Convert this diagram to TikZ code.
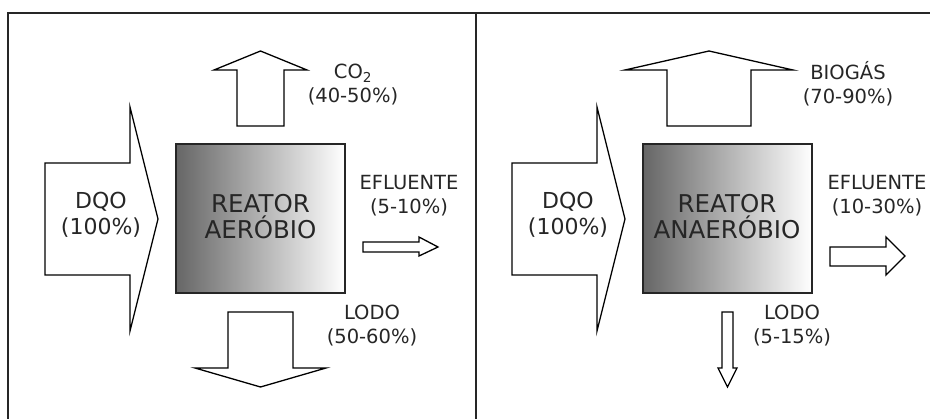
\documentclass[tikz,border=0pt]{standalone}
\usepackage{fontspec}
\setmainfont{DejaVu Sans}
\begin{document}
\begin{tikzpicture}[x=1pt,y=-1pt,line join=miter]
\useasboundingbox (0,0) rectangle (930,419);
\tikzset{
  frame/.style={line width=1.6pt, draw=black!85},
  blockarrow/.style={draw=black, line width=1.3pt, fill=white},
  reactor/.style={draw=black!85, line width=1.5pt, left color=black!60, right color=white, inner sep=0pt},
  lbl/.style={align=center, font=\fontsize{19.5}{24}\selectfont, inner sep=0pt, text=black!85},
  big/.style={align=center, font=\fontsize{24.5}{26}\selectfont, inner sep=0pt, text=black!85},
  dqo/.style={align=center, font=\fontsize{22}{26.5}\selectfont, inner sep=0pt, text=black!85},
}
% frame
\coordinate (tl) at (8,13);
\coordinate (tr) at (930,13);
\coordinate (bl) at (8,419);
\coordinate (mt) at (476,13);
\coordinate (mb) at (476,419);
\draw[frame] (bl) -- (tl) -- (tr);
\draw[frame] (mt) -- (mb);

% ===== left panel: aerobic =====
\draw[blockarrow] (45,163) -- (130,163) -- (130,107) -- (158,219) -- (130,331) -- (130,275) -- (45,275) -- cycle;
\node[dqo] (dqo1) at (101,215) {DQO\\(100\%)};
\node[reactor, minimum width=169, minimum height=149] (r1) at (260.5,218.5) {};
\node[big] (r1t) at (260.5,217) {REATOR\\AERÓBIO};
\draw[blockarrow] (237,126) -- (237,70) -- (214,70) -- (260.5,51) -- (307,70) -- (284,70) -- (284,126) -- cycle;
\node[lbl] (co2) at (353,85) {CO\textsubscript{2}\\(40-50\%)};
\node[lbl] (ef1) at (409,196) {EFLUENTE\\(5-10\%)};
\draw[blockarrow] (363,242) -- (419,242) -- (419,237) -- (438,247) -- (419,256) -- (419,252) -- (363,252) -- cycle;
\draw[blockarrow] (228,312) -- (293,312) -- (293,368) -- (326,368) -- (260.5,387) -- (195,368) -- (228,368) -- cycle;
\node[lbl] (lodo1) at (372,326) {LODO\\(50-60\%)};

% ===== right panel: anaerobic =====
\draw[blockarrow] (512,163) -- (597,163) -- (597,107) -- (625,219) -- (597,331) -- (597,275) -- (512,275) -- cycle;
\node[dqo] (dqo2) at (568,215) {DQO\\(100\%)};
\node[reactor, minimum width=169, minimum height=149] (r2) at (727.5,218.5) {};
\node[big] (r2t) at (727,217) {REATOR\\ANAERÓBIO};
\draw[blockarrow] (667,126) -- (667,70) -- (625,70) -- (709,51) -- (793,70) -- (751,70) -- (751,126) -- cycle;
\node[lbl] (bio) at (848,84) {BIOGÁS\\(70-90\%)};
\node[lbl] (ef2) at (877,196) {EFLUENTE\\(10-30\%)};
\draw[blockarrow] (830,247) -- (886,247) -- (886,237) -- (905,256) -- (886,275) -- (886,266) -- (830,266) -- cycle;
\draw[blockarrow] (722,312) -- (733,312) -- (733,368) -- (737,368) -- (727.5,387) -- (718,368) -- (722,368) -- cycle;
\node[lbl] (lodo2) at (792,326) {LODO\\(5-15\%)};
\end{tikzpicture}
\end{document}
